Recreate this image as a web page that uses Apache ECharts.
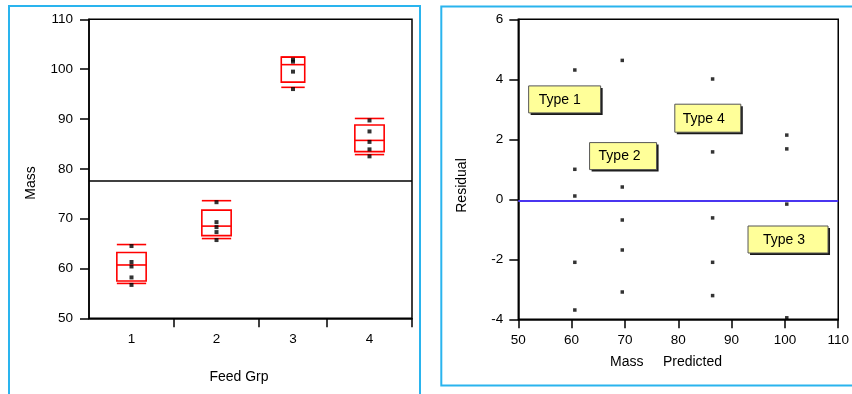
<!DOCTYPE html>
<html>
<head>
<meta charset="utf-8">
<script src="https://cdn.jsdelivr.net/npm/echarts@6/dist/echarts.min.js"></script>
<style>
html,body{margin:0;padding:0;background:#fff;}
#c{width:852px;height:394px;}
</style>
</head>
<body>
<div id="c"></div>
<script>
// ---------- data ----------
var groupLabels = ['1', '2', '3', '4'];
var groupSizes = [5, 5, 4, 5];
var massG1 = [64.5, 61.3, 60.4, 58.2, 56.7];
var massG2 = [73.3, 69.3, 68.3, 67.3, 65.7];
var massG3 = [101.9, 101.5, 99.5, 96.0];
var massG4 = [89.7, 87.5, 85.4, 83.9, 82.5];
// [upper cap, q3, median, q1, lower cap]
var boxG1 = [64.8, 63.2, 60.7, 57.5, 57.0];
var boxG2 = [73.6, 71.7, 68.5, 66.6, 66.0];
var boxG3 = [102.4, 102.4, 100.9, 97.4, 96.35];
var boxG4 = [90.1, 88.8, 85.7, 83.45, 82.85];
var grandMean = 77.7;

var predicted = [60.6, 69.5, 100.35, 86.44];
var residG1 = [4.31, 1.0, 0.11, -2.1, -3.69];
var residG2 = [4.63, 0.41, -0.69, -1.69, -3.09];
var residG3 = [2.14, 1.68, -0.16, -3.95];
var residG4 = [4.01, 1.58, -0.62, -2.1, -3.21];
var residZero = -0.05;

var massTicks = [50, 60, 70, 80, 90, 100, 110];
var residTicks = [-4, -2, 0, 2, 4, 6];
var predTicks = [50, 60, 70, 80, 90, 100, 110];

var annotations = [
  {text: 'Type 1', x: 51.94, y: 3.78, w: 72, h: 27, inset: 10},
  {text: 'Type 2', x: 63.37, y: 1.89, w: 67, h: 27, inset: 9},
  {text: 'Type 4', x: 79.35, y: 3.17, w: 66, h: 28, inset: 8},
  {text: 'Type 3', x: 93.08, y: -0.89, w: 80, h: 27, inset: 15}
];

// ---------- derived ----------
var massGroups = [massG1, massG2, massG3, massG4];
var boxGroups = [boxG1, boxG2, boxG3, boxG4];
var residGroups = [residG1, residG2, residG3, residG4];
var starts = [], ends = [], centers = [];
var acc = 0;
for (var i = 0; i < groupSizes.length; i++) {
  starts.push(acc); acc += groupSizes[i]; ends.push(acc);
  centers.push((starts[i] + ends[i]) / 2);
}
var totalN = acc;

var massPoints = [];
massGroups.forEach(function (g, i) { g.forEach(function (v) { massPoints.push([centers[i], v]); }); });
var boxData = boxGroups.map(function (b, i) { return [starts[i], ends[i]].concat(b); });
var residPoints = [];
residGroups.forEach(function (g, i) { g.forEach(function (v) { residPoints.push([predicted[i], v]); }); });

var FONT = "'Liberation Sans', Arial, sans-serif";
var chart = echarts.init(document.getElementById('c'), null, {renderer: 'canvas'});

var axisLineStyle = {onZero: false, lineStyle: {color: '#000', width: 1.5}};
var tickStyle = {show: true, inside: false, length: 9, lineStyle: {color: '#000', width: 1.5}};
var labelStyle = {color: '#000', fontSize: 13.5, fontFamily: FONT};

chart.setOption({
  animation: false,
  grid: [
    {left: 89, top: 19.3, width: 323, height: 299, show: true, borderColor: '#000', borderWidth: 1.5, containLabel: false},
    {left: 518.3, top: 19.3, width: 321.7, height: 300, show: true, borderColor: '#000', borderWidth: 1.5, containLabel: false}
  ],
  xAxis: [
    {
      gridIndex: 0, type: 'value', min: 0, max: totalN,
      axisLine: axisLineStyle,
      axisTick: Object.assign({}, tickStyle, {customValues: ends}),
      axisLabel: Object.assign({}, labelStyle, {
        margin: 14, customValues: centers,
        formatter: function (v) {
          for (var k = 0; k < centers.length; k++) if (Math.abs(centers[k] - v) < 1e-6) return groupLabels[k];
          return '';
        }
      }),
      splitLine: {show: false}
    },
    {
      gridIndex: 1, type: 'value', min: predTicks[0], max: predTicks[predTicks.length - 1], interval: 10,
      axisLine: axisLineStyle, axisTick: tickStyle,
      axisLabel: Object.assign({}, labelStyle, {margin: 14}),
      splitLine: {show: false}
    }
  ],
  yAxis: [
    {
      gridIndex: 0, type: 'value', min: massTicks[0], max: massTicks[massTicks.length - 1], interval: 10,
      axisLine: axisLineStyle, axisTick: tickStyle,
      axisLabel: Object.assign({}, labelStyle, {margin: 16}),
      splitLine: {show: false}
    },
    {
      gridIndex: 1, type: 'value', min: residTicks[0], max: residTicks[residTicks.length - 1], interval: 2,
      axisLine: axisLineStyle, axisTick: tickStyle,
      axisLabel: Object.assign({}, labelStyle, {margin: 15}),
      splitLine: {show: false}
    }
  ],
  series: [
    {
      type: 'custom', xAxisIndex: 0, yAxisIndex: 0, z: 3,
      data: boxData,
      encode: {x: [0, 1], y: [2, 3, 4, 5, 6]},
      renderItem: function (params, api) {
        var s = api.value(0), e = api.value(1);
        var c = (s + e) / 2, hw = (e - s) * 0.345 / 2;
        var xl = api.coord([c - hw, 0])[0], xr = api.coord([c + hw, 0])[0];
        var yCapT = api.coord([c, api.value(2)])[1];
        var yQ3 = api.coord([c, api.value(3)])[1];
        var yMed = api.coord([c, api.value(4)])[1];
        var yQ1 = api.coord([c, api.value(5)])[1];
        var yCapB = api.coord([c, api.value(6)])[1];
        var st = {stroke: '#ff0000', lineWidth: 1.6, fill: null};
        return {
          type: 'group',
          children: [
            {type: 'rect', shape: {x: xl, y: yQ3, width: xr - xl, height: yQ1 - yQ3}, style: st},
            {type: 'line', shape: {x1: xl, y1: yMed, x2: xr, y2: yMed}, style: st},
            {type: 'line', shape: {x1: xl, y1: yCapT, x2: xr, y2: yCapT}, style: st},
            {type: 'line', shape: {x1: xl, y1: yCapB, x2: xr, y2: yCapB}, style: st}
          ]
        };
      }
    },
    {
      type: 'scatter', xAxisIndex: 0, yAxisIndex: 0, z: 4,
      symbol: 'rect', symbolSize: 4, itemStyle: {color: '#000'},
      data: massPoints,
      markLine: {
        silent: true, symbol: 'none', label: {show: false},
        lineStyle: {color: '#000', width: 1.5, type: 'solid'},
        data: [{yAxis: grandMean}]
      }
    },
    {
      type: 'scatter', xAxisIndex: 1, yAxisIndex: 1, z: 4,
      symbol: 'rect', symbolSize: 3.5, itemStyle: {color: '#000'},
      data: residPoints,
      markLine: {
        silent: true, symbol: 'none', label: {show: false},
        lineStyle: {color: '#4a35f0', width: 2, type: 'solid'},
        data: [{yAxis: residZero}]
      }
    }
  ]
});

// ---------- graphics: frames, axis names, annotations ----------
var g = [];
g.push({type: 'rect', z: 1, shape: {x: 9, y: 6, width: 411, height: 400},
  style: {fill: null, stroke: '#2ab4ee', lineWidth: 2}});
g.push({type: 'rect', z: 1, shape: {x: 441.3, y: 6.5, width: 430, height: 379},
  style: {fill: null, stroke: '#2ab4ee', lineWidth: 2}});

var nameFont = {fill: '#000', fontSize: 14, fontFamily: FONT, align: 'center', verticalAlign: 'middle'};
g.push({type: 'text', x: 31, y: 183, rotation: Math.PI / 2, style: Object.assign({text: 'Mass'}, nameFont)});
g.push({type: 'text', x: 239, y: 377, style: Object.assign({text: 'Feed Grp'}, nameFont)});
g.push({type: 'text', x: 462, y: 185.5, rotation: Math.PI / 2, style: Object.assign({text: 'Residual'}, nameFont)});
g.push({type: 'text', x: 666, y: 362, style: Object.assign({text: 'Mass     Predicted'}, nameFont)});

annotations.forEach(function (a) {
  var p = chart.convertToPixel({xAxisIndex: 1, yAxisIndex: 1}, [a.x, a.y]);
  g.push({type: 'rect', z: 10, shape: {x: p[0] + 2, y: p[1] + 2, width: a.w, height: a.h},
    style: {fill: '#1a1a1a'}});
  g.push({type: 'rect', z: 11, shape: {x: p[0], y: p[1], width: a.w, height: a.h},
    style: {fill: '#ffff99', stroke: '#555', lineWidth: 1}});
  g.push({type: 'text', z: 12, x: p[0] + a.inset, y: p[1] + a.h / 2 + 0.5,
    style: {text: a.text, fill: '#000', fontSize: 14, fontFamily: FONT, align: 'left', verticalAlign: 'middle'}});
});

chart.setOption({graphic: g});
</script>
</body>
</html>
